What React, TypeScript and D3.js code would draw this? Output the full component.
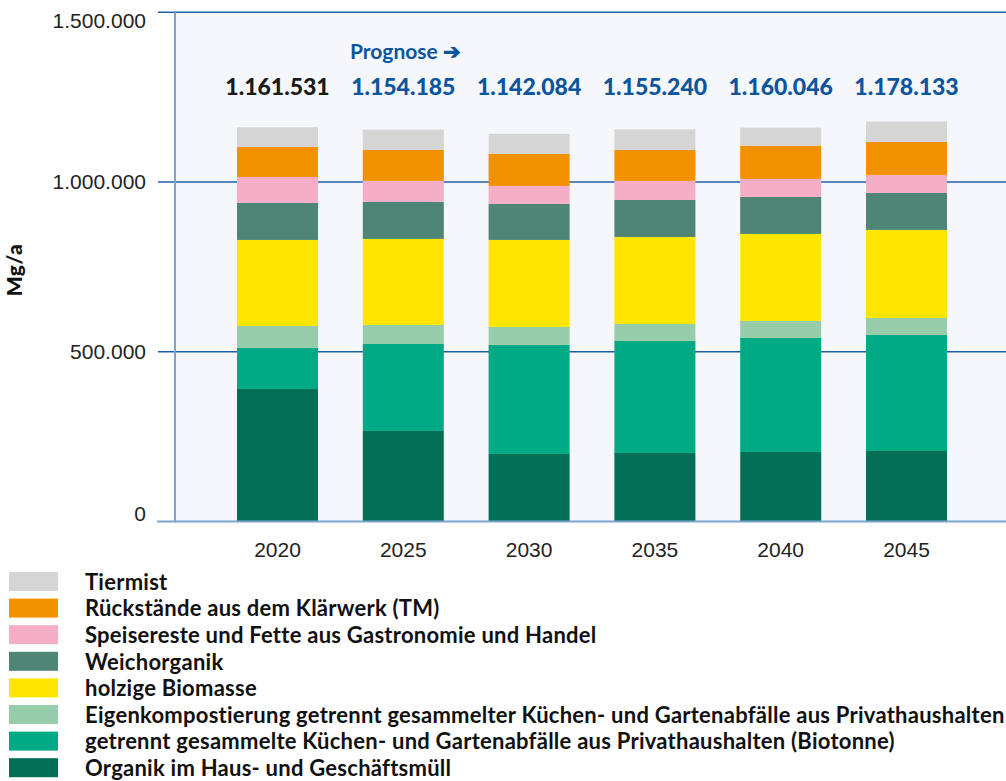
import React, { useEffect, useRef } from 'react'

import * as d3 from 'd3'

const years = ['2020', '2025', '2030', '2035', '2040', '2045']

// series, bottom to top of each bar
const organik = [390400, 266700, 198900, 201800, 204800, 207700]
const biotonne = [120800, 256300, 321200, 330000, 335900, 341800]
const eigenkompost = [64800, 56000, 53000, 50100, 50100, 50100]
const holzig = [253400, 253400, 256300, 256300, 256300, 259300]
const weichorganik = [109000, 109000, 106100, 109000, 109000, 109000]
const speisereste = [76600, 61900, 53000, 56000, 53000, 53000]
const klaerwerk = [88400, 91300, 94300, 91300, 98000, 97200]
const tiermist = [58000, 59600, 59300, 60700, 53000, 60000]

const totalLabels = ['1.161.531', '1.154.185', '1.142.084', '1.155.240', '1.160.046', '1.178.133']
const yTicks = [0, 500000, 1000000, 1500000]
const yTickLabels = ['0', '500.000', '1.000.000', '1.500.000']

const seriesNames = [
  'Organik im Haus- und Geschäftsmüll',
  'getrennt gesammelte Küchen- und Gartenabfälle aus Privathaushalten (Biotonne)',
  'Eigenkompostierung getrennt gesammelter Küchen- und Gartenabfälle aus Privathaushalten',
  'holzige Biomasse',
  'Weichorganik',
  'Speisereste und Fette aus Gastronomie und Handel',
  'Rückstände aus dem Klärwerk (TM)',
  'Tiermist',
]
const seriesValues = [organik, biotonne, eigenkompost, holzig, weichorganik, speisereste, klaerwerk, tiermist]
const seriesColors = ['#006f56', '#00aa85', '#98cdab', '#ffe500', '#4f8574', '#f4afc6', '#f39200', '#d4d5d4']

const App = () => {
  const ref = useRef(null)

  useEffect(() => {
    document.body.style.margin = '0'
    const svg = d3.select(ref.current)
    svg.selectAll('*').remove()

    const x0 = 175
    const yTop = 12.3
    const yBottom = 521.5
    const legendFont = 'Lato, "Noto Sans", sans-serif'
    const axisFont = '"Liberation Sans", Arial, sans-serif'

    const rows = years.map((yr, i) => {
      const row = { year: yr }
      seriesNames.forEach((n, k) => (row[n] = seriesValues[k][i]))
      return row
    })
    const stacked = d3.stack().keys(seriesNames)(rows)

    const x = d3.scaleBand().domain(years).range([214.6, 969.4]).paddingInner(0.356).paddingOuter(0.178)
    const y = d3.scaleLinear().domain([0, 1500000]).range([yBottom, yTop])

    // plot background
    svg.append('rect')
      .attr('x', x0).attr('y', yTop)
      .attr('width', 1006 - x0).attr('height', yBottom - yTop)
      .attr('fill', '#f5f7fb')

    // gridlines
    svg.append('g').selectAll('line')
      .data(yTicks.filter((d) => d > 0))
      .enter().append('line')
      .attr('x1', 158).attr('x2', 1006)
      .attr('y1', (d) => y(d)).attr('y2', (d) => y(d))
      .attr('stroke', '#1f5fa8').attr('stroke-width', 1.5)

    // bars
    svg.append('g').selectAll('g')
      .data(stacked)
      .enter().append('g')
      .attr('fill', (d, k) => seriesColors[k])
      .selectAll('rect')
      .data((d) => d)
      .enter().append('rect')
      .attr('x', (d) => x(d.data.year))
      .attr('y', (d) => y(d[1]))
      .attr('width', x.bandwidth())
      .attr('height', (d) => y(d[0]) - y(d[1]))

    // axis lines
    svg.append('line')
      .attr('x1', x0).attr('x2', x0).attr('y1', yTop).attr('y2', yBottom + 1)
      .attr('stroke', '#7ba4d1').attr('stroke-width', 2)
    svg.append('line')
      .attr('x1', 157).attr('x2', 1006).attr('y1', yBottom).attr('y2', yBottom)
      .attr('stroke', '#7ba4d1').attr('stroke-width', 2)

    // y tick labels
    svg.append('g').selectAll('text')
      .data(yTicks)
      .enter().append('text')
      .attr('x', 146)
      .attr('y', (d) => Math.min(Math.max(y(d), 21), 514))
      .attr('dy', '0.35em')
      .attr('text-anchor', 'end')
      .attr('font-family', axisFont).attr('font-size', 21)
      .attr('fill', '#222')
      .text((d, i) => yTickLabels[i])

    // x labels
    svg.append('g').selectAll('text')
      .data(years)
      .enter().append('text')
      .attr('x', (d) => x(d) + x.bandwidth() / 2)
      .attr('y', 557)
      .attr('text-anchor', 'middle')
      .attr('font-family', axisFont).attr('font-size', 21)
      .attr('fill', '#222')
      .text((d) => d)

    // y axis title
    svg.append('text')
      .attr('transform', 'translate(22,270) rotate(-90)')
      .attr('text-anchor', 'middle')
      .attr('font-family', legendFont).attr('font-weight', 900).attr('font-size', 21)
      .attr('letter-spacing', 0.5)
      .attr('fill', '#111')
      .text('Mg/a')

    // totals
    svg.append('g').selectAll('text')
      .data(years)
      .enter().append('text')
      .attr('x', (d) => x(d) + x.bandwidth() / 2)
      .attr('y', 95)
      .attr('text-anchor', 'middle')
      .attr('font-family', legendFont).attr('font-weight', 900).attr('font-size', 23)
      .attr('fill', (d, i) => (i === 0 ? '#1a1a1a' : '#0b559f'))
      .text((d, i) => totalLabels[i])

    svg.append('text')
      .attr('x', 350).attr('y', 59)
      .attr('font-family', legendFont).attr('font-weight', 'bold').attr('font-size', 21)
      .attr('fill', '#0b559f')
      .text('Prognose ➔')

    // legend, top to bottom
    const legend = svg.append('g').selectAll('g')
      .data(seriesNames.slice().reverse())
      .enter().append('g')
      .attr('transform', (d, i) => `translate(0,${572 + i * 26.6})`)
    legend.append('rect')
      .attr('x', 9).attr('width', 49).attr('height', 19)
      .attr('fill', (d) => seriesColors[seriesNames.indexOf(d)])
    legend.append('text')
      .attr('x', 85).attr('y', 10).attr('dy', '0.35em')
      .attr('font-family', legendFont).attr('font-weight', 'bold').attr('font-size', 22)
      .attr('letter-spacing', 0.25)
      .attr('fill', '#111')
      .text((d) => d)
  }, [])

  return <svg ref={ref} width={1006} height={781} style={{ display: 'block' }}></svg>
}

export default App
